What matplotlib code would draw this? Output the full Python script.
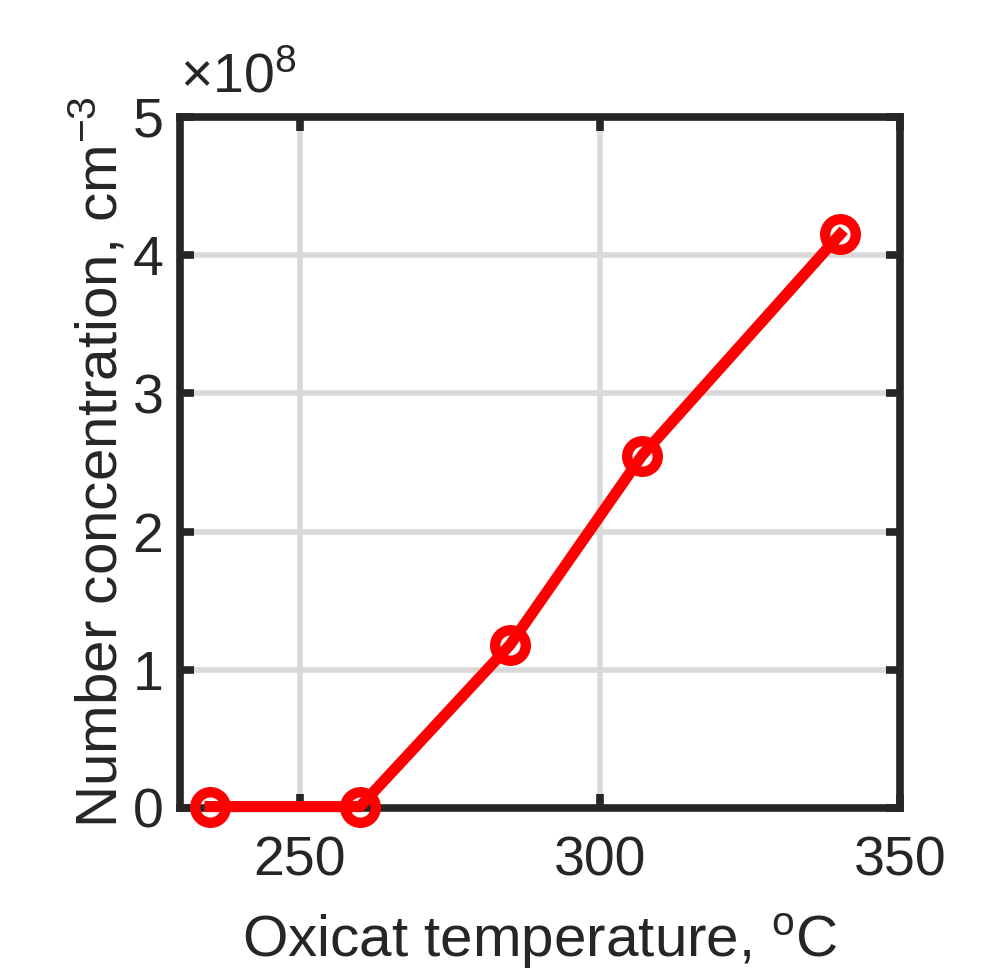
import matplotlib
matplotlib.use("Agg")
import matplotlib.pyplot as plt

# Oxicat temperature vs number concentration
temperature = [235, 260, 285, 307, 340]
concentration = [0.01, 0.01, 1.18, 2.55, 4.15]  # x 1e8 cm^-3

plt.rcParams['font.family'] = ['Liberation Sans', 'DejaVu Sans']
plt.rcParams['mathtext.fontset'] = 'custom'
plt.rcParams['mathtext.rm'] = 'Liberation Sans'
plt.rcParams['mathtext.it'] = 'Liberation Sans'

fig = plt.figure(figsize=(10.01, 9.73), dpi=100)
ax = fig.add_axes([0.1798, 0.1696, 0.7193, 0.7102])

ax.plot(temperature, concentration, color="red", linewidth=8,
        marker="o", markersize=22, markerfacecolor="none",
        markeredgewidth=7.5, zorder=3, clip_on=False)

ax.set_xlim(230, 350)
ax.set_ylim(0, 5)
ax.set_xticks([250, 300, 350])
ax.set_yticks([0, 1, 2, 3, 4, 5])

ax.grid(True, color="#d9d9d9", linewidth=4)
ax.set_axisbelow(True)

dark = "#262626"
for s in ax.spines.values():
    s.set_linewidth(5.5)
    s.set_color(dark)
ax.tick_params(direction="in", length=10, width=5.5, color=dark,
               labelsize=40, labelcolor=dark, top=True, right=True)
ax.tick_params(axis="x", pad=20)
ax.tick_params(axis="y", pad=12)

ax.set_xlabel(r"Oxicat temperature, $^{\mathrm{o}}$C", fontsize=42,
              color=dark, labelpad=17)
ax.set_ylabel(r"Number concentration, cm$^{\mathrm{-3}}$", fontsize=42,
              color=dark, labelpad=2)
ax.text(0.0, 1.035, r"$\times$10$^{\mathrm{8}}$", transform=ax.transAxes,
        fontsize=40, color=dark, ha="left", va="baseline")

plt.savefig("out.png", dpi=100)
